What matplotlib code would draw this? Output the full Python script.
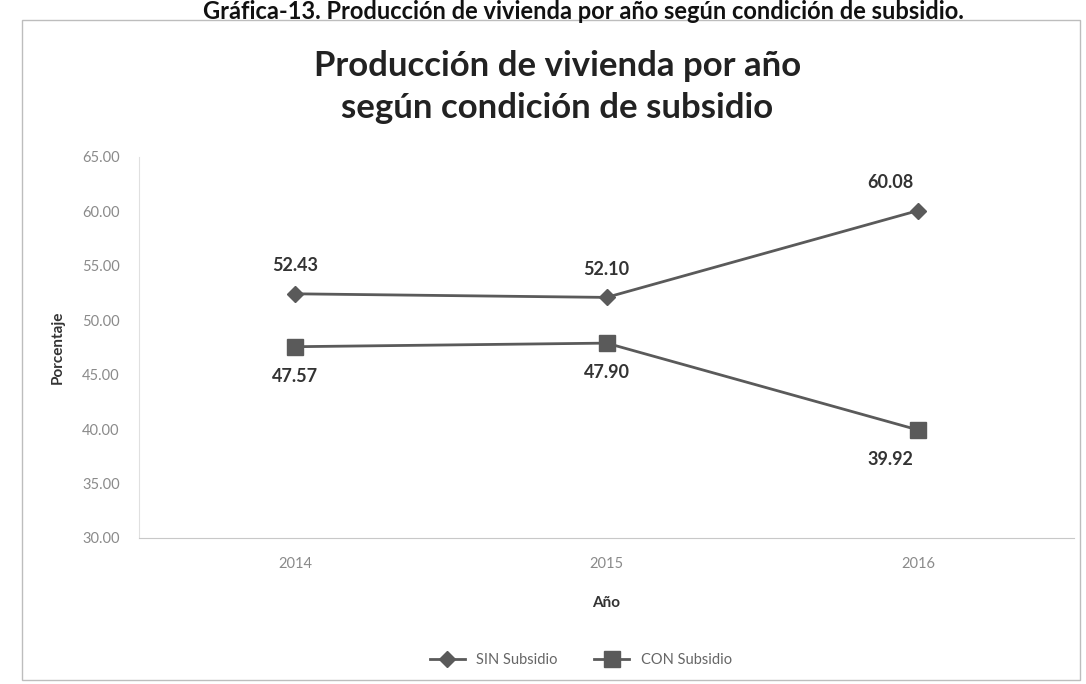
import matplotlib.pyplot as plt
from matplotlib.patches import Rectangle

# ---- data ----
years = ["2014", "2015", "2016"]
sin_subsidio = [52.43, 52.10, 60.08]
con_subsidio = [47.57, 47.90, 39.92]
y_ticks = [30, 35, 40, 45, 50, 55, 60, 65]

plt.rcParams['font.family'] = ['Lato', 'DejaVu Sans']

line_col = "#5a5a5a"
tick_col = "#8a8a8a"

fig = plt.figure(figsize=(10.86, 6.84), dpi=100)

# outer chart frame
fig.patches.append(Rectangle((22 / 1086, 1 - 680 / 684), 1058 / 1086, 660 / 684,
                             transform=fig.transFigure, fill=False,
                             edgecolor="#bdbdbd", linewidth=1.0))

# caption above the chart
fig.text(0.537, 1.0, "Gráfica-13. Producción de vivienda por año según condición de subsidio.",
         ha="center", va="top", fontsize=17, fontweight="bold", color="#111111")

ax = fig.add_axes([0.128, 0.2135, 0.861, 0.557])
x = list(range(len(years)))

ax.plot(x, sin_subsidio, color=line_col, linewidth=2.0, marker="D", markersize=8,
        label="SIN Subsidio")
ax.plot(x, con_subsidio, color=line_col, linewidth=2.0, marker="s", markersize=12,
        label="CON Subsidio")

# data labels
sin_dx = [0, 0, -20]
con_dx = [0, 0, -20]
for i, v in enumerate(sin_subsidio):
    ax.annotate(f"{v:.2f}", (i, v), xytext=(sin_dx[i], 14),
                textcoords="offset points", ha="center", va="bottom",
                fontsize=13, fontweight="bold", color="#333333")
for i, v in enumerate(con_subsidio):
    ax.annotate(f"{v:.2f}", (i, v), xytext=(con_dx[i], -15),
                textcoords="offset points", ha="center", va="top",
                fontsize=13, fontweight="bold", color="#333333")

ax.set_xlim(-0.5, 2.5)
ax.set_ylim(30, 65)
ax.set_xticks(x)
ax.set_xticklabels(years)
ax.set_yticks(y_ticks)
ax.set_yticklabels([f"{t:.2f}" for t in y_ticks])
ax.tick_params(axis="both", colors=tick_col, labelsize=10.5, length=0, pad=14)

for side in ["top", "right"]:
    ax.spines[side].set_visible(False)
ax.spines["left"].set_color("#e0e0e0")
ax.spines["bottom"].set_color("#c8c8c8")

ax.set_xlabel("Año", fontsize=11, fontweight="bold", color="#333333", labelpad=18)
ax.set_ylabel("Porcentaje", fontsize=11, fontweight="bold", color="#333333", labelpad=12)

fig.text(0.513, 0.873, "Producción de vivienda por año\nsegún condición de subsidio",
         ha="center", va="center", fontsize=25, fontweight="bold", color="#222222",
         linespacing=1.4)

fig.legend(loc="center", bbox_to_anchor=(0.535, 0.035), ncol=2, frameon=False,
           fontsize=10.5, labelcolor="#666666", handlelength=2.4, columnspacing=2.5)

fig.savefig("out.png", dpi=100)
